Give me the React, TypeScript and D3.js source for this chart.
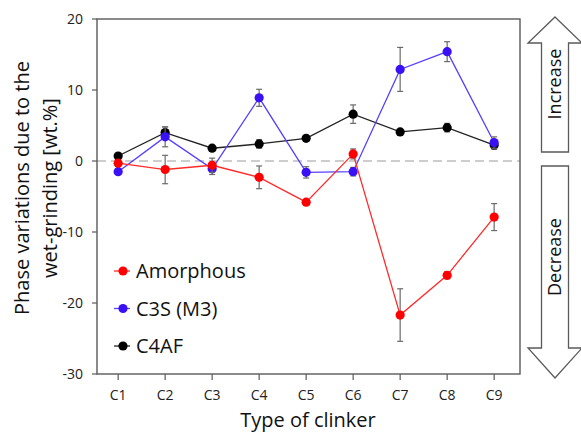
import React from 'react';
import { scaleLinear, line } from 'd3';

const clinkers = ['C1', 'C2', 'C3', 'C4', 'C5', 'C6', 'C7', 'C8', 'C9'];
const yTicks = [20, 10, 0, -10, -20, -30];

// values and error bars [wt.%]
const amorphous = [-0.3, -1.2, -0.6, -2.3, -5.8, 1.0, -21.7, -16.1, -7.9];
const amorphousErr = [0, 2.0, 1.0, 1.6, 0, 0.7, 3.7, 0.5, 1.9];
const c3s = [-1.5, 3.4, -1.1, 8.9, -1.6, -1.5, 12.9, 15.4, 2.6];
const c3sErr = [0, 1.4, 0.8, 1.2, 0.8, 0.6, 3.1, 1.4, 0.8];
const c4af = [0.7, 4.0, 1.8, 2.4, 3.2, 6.6, 4.1, 4.7, 2.25];
const c4afErr = [0, 0.8, 0, 0.6, 0, 1.3, 0, 0.6, 0.6];

const series = [
  { name: 'C4AF', values: c4af, err: c4afErr, color: '#000000', lineColor: '#222222' },
  { name: 'C3S (M3)', values: c3s, err: c3sErr, color: '#3a10f5', lineColor: '#5540ff' },
  { name: 'Amorphous', values: amorphous, err: amorphousErr, color: '#ff0000', lineColor: '#ff2a2a' },
];
const legendOrder = ['Amorphous', 'C3S (M3)', 'C4AF'];

const W = 581;
const H = 433;
const plot = { left: 97, right: 520, top: 19, bottom: 374 };
const font = '"Open Sans", "Segoe UI", sans-serif';

export default function App() {
  const x = scaleLinear().domain([0.55, 9.55]).range([plot.left, plot.right]);
  const y = scaleLinear().domain([-30, 20]).range([plot.bottom, plot.top]);
  const frame = '#5a5a5a';

  const path = line<number>()
    .x((_, i) => x(i + 1))
    .y(d => y(d));

  // arrow geometry
  const ax = 555;
  const shaftHalf = 13.5;
  const headHalf = 27;
  const upArrow = [
    [ax, 17], [ax + headHalf, 43], [ax + shaftHalf, 43], [ax + shaftHalf, 152],
    [ax - shaftHalf, 152], [ax - shaftHalf, 43], [ax - headHalf, 43],
  ];
  const downArrow = [
    [ax - shaftHalf, 166], [ax + shaftHalf, 166], [ax + shaftHalf, 348], [ax + headHalf, 348],
    [ax, 378], [ax - headHalf, 348], [ax - shaftHalf, 348],
  ];
  const pts = (p: number[][]) => p.map(d => d.join(',')).join(' ');

  return (
    <svg width={W} height={H} style={{ position: 'absolute', left: 0, top: 0, background: '#fff' }} fontFamily={font}>
      {/* zero line */}
      <line x1={plot.left} x2={plot.right} y1={y(0)} y2={y(0)} stroke="#bdbdbd" strokeWidth={1.3} strokeDasharray="9,5" />

      {/* frame */}
      <rect x={plot.left} y={plot.top} width={plot.right - plot.left} height={plot.bottom - plot.top}
        fill="none" stroke={frame} strokeWidth={1.4} />

      {/* y axis ticks */}
      {yTicks.map(t => (
        <g key={t}>
          <line x1={plot.left - 5} x2={plot.left} y1={y(t)} y2={y(t)} stroke={frame} strokeWidth={1.2} />
          <text x={plot.left - 14} y={y(t)} dy="0.35em" textAnchor="end" fontSize={14} fill="#222">{t}</text>
        </g>
      ))}

      {/* x axis ticks */}
      {clinkers.map((c, i) => (
        <g key={c}>
          <line x1={x(i + 1)} x2={x(i + 1)} y1={plot.bottom} y2={plot.bottom + 6} stroke={frame} strokeWidth={1.2} />
          <text x={x(i + 1)} y={395} dy="0.35em" textAnchor="middle" fontSize={14} fill="#222">{c}</text>
        </g>
      ))}

      {/* axis titles */}
      <text x={308} y={420} dy="0.35em" textAnchor="middle" fontSize={20} fill="#111">Type of clinker</text>
      <text transform="translate(22,188) rotate(-90)" dy="0.35em" textAnchor="middle" fontSize={20} fill="#111">
        Phase variations due to the
      </text>
      <text transform="translate(50,188) rotate(-90)" dy="0.35em" textAnchor="middle" fontSize={20} fill="#111">
        wet-grinding [wt.%]
      </text>

      {/* series */}
      {series.map(s => (
        <g key={s.name}>
          <path d={path(s.values) ?? ''} fill="none" stroke={s.lineColor} strokeWidth={1.3} />
          {s.values.map((v, i) => s.err[i] > 0 ? (
            <g key={i} stroke="#6a6a6a" strokeWidth={1.2}>
              <line x1={x(i + 1)} x2={x(i + 1)} y1={y(v - s.err[i])} y2={y(v + s.err[i])} />
              <line x1={x(i + 1) - 3} x2={x(i + 1) + 3} y1={y(v - s.err[i])} y2={y(v - s.err[i])} />
              <line x1={x(i + 1) - 3} x2={x(i + 1) + 3} y1={y(v + s.err[i])} y2={y(v + s.err[i])} />
            </g>
          ) : null)}
          {s.values.map((v, i) => (
            <circle key={i} cx={x(i + 1)} cy={y(v)} r={4.6} fill={s.color} />
          ))}
        </g>
      ))}

      {/* legend */}
      {legendOrder.map((name, i) => {
        const s = series.find(d => d.name === name)!;
        const ly = 271 + i * 37.5;
        return (
          <g key={name}>
            <line x1={114} x2={130} y1={ly} y2={ly} stroke={s.lineColor} strokeWidth={1.3} />
            <circle cx={123} cy={ly} r={4.6} fill={s.color} />
            <text x={136} y={ly} dy="0.35em" fontSize={20} fill="#111">{name}</text>
          </g>
        );
      })}

      {/* increase / decrease arrows */}
      <polygon points={pts(upArrow)} fill="#fff" stroke={frame} strokeWidth={1.3} />
      <polygon points={pts(downArrow)} fill="#fff" stroke={frame} strokeWidth={1.3} />
      <text transform={`translate(${ax},84) rotate(-90)`} dy="0.35em" textAnchor="middle" fontSize={18} fill="#111">Increase</text>
      <text transform={`translate(${ax},257) rotate(-90)`} dy="0.35em" textAnchor="middle" fontSize={18} fill="#111">Decrease</text>
    </svg>
  );
}
